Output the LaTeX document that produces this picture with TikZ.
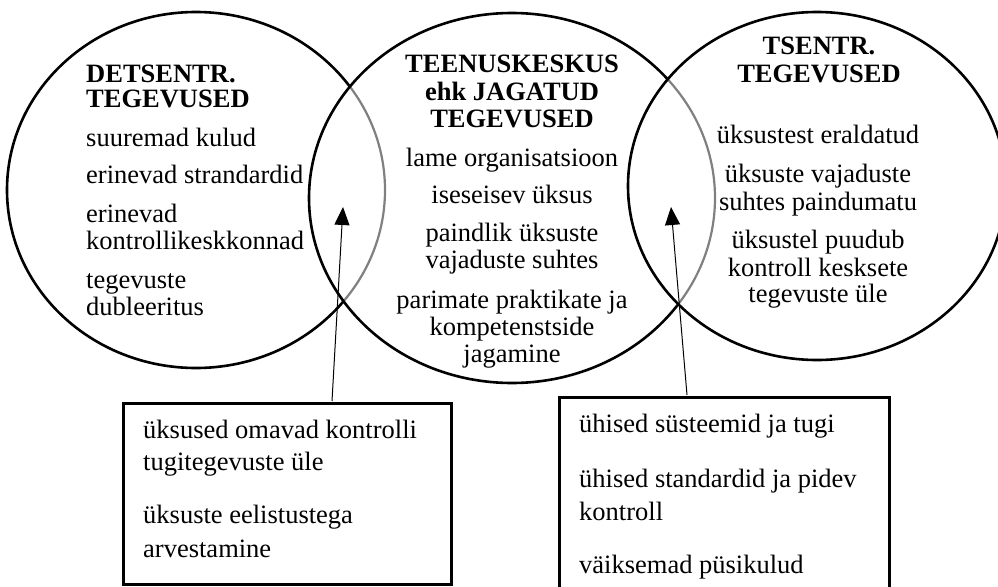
\documentclass[tikz,border=0pt]{standalone}
\usepackage{fontspec}
\setmainfont{Liberation Serif}
\usetikzlibrary{arrows.meta}
\tikzset{
  txt/.style={font=\fontsize{26.5pt}{28pt}\selectfont, inner sep=0pt},
  hd/.style={font=\fontsize{26.5pt}{28pt}\selectfont\bfseries, inner sep=0pt},
  ring/.style={line width=2.6pt, draw=black},
  inner/.style={line width=2.2pt, draw=black!50},
  wipe/.style={line width=4pt, draw=white},
  boxst/.style={draw=black, line width=2.6pt, inner sep=0pt, anchor=north west},
  arr/.style={line width=1pt, -{Triangle[length=18pt,width=15pt]}}
}
\begin{document}
\begin{tikzpicture}[x=1pt,y=-1pt]
\useasboundingbox (0,0) rectangle (998,586);
% ellipses
\coordinate (cl) at (196,190);
\coordinate (cc) at (512,198);
\coordinate (cr) at (817,186);
\draw[ring] (cl) ellipse [x radius=189pt, y radius=178pt];
\begin{scope}
  \clip (cc) ellipse [x radius=203pt, y radius=185pt];
  \draw[wipe] (cl) ellipse [x radius=189pt, y radius=178pt];
  \draw[inner] (cl) ellipse [x radius=189pt, y radius=178pt];
\end{scope}
\draw[ring] (cc) ellipse [x radius=203pt, y radius=185pt];
\begin{scope}
  \clip (cr) ellipse [x radius=189pt, y radius=174pt];
  \draw[wipe] (cc) ellipse [x radius=203pt, y radius=185pt];
  \draw[inner] (cc) ellipse [x radius=203pt, y radius=185pt];
\end{scope}
\draw[ring] (cr) ellipse [x radius=189pt, y radius=174pt];
% left ellipse text
\node[hd, anchor=base west] (l1) at (86,82) {DETSENTR.};
\node[hd, anchor=base west] (l2) at (86,107) {TEGEVUSED};
\node[txt, anchor=base west] (l3) at (86,146) {suuremad kulud};
\node[txt, anchor=base west] (l4) at (86,183) {erinevad strandardid};
\node[txt, anchor=base west] (l5) at (86,222) {erinevad};
\node[txt, anchor=base west] (l6) at (86,249) {kontrollikeskkonnad};
\node[txt, anchor=base west] (l7) at (86,288) {tegevuste};
\node[txt, anchor=base west] (l8) at (86,315) {dubleeritus};
% center text
\node[hd, anchor=base] (c1) at (512,72) {TEENUSKESKUS};
\node[hd, anchor=base] (c2) at (512,100) {ehk JAGATUD};
\node[hd, anchor=base] (c3) at (512,127) {TEGEVUSED};
\node[txt, anchor=base] (c4) at (512,166) {lame organisatsioon};
\node[txt, anchor=base] (c5) at (512,203) {iseseisev üksus};
\node[txt, anchor=base] (c6) at (512,241) {paindlik üksuste};
\node[txt, anchor=base] (c7) at (512,268) {vajaduste suhtes};
\node[txt, anchor=base] (c8) at (512,308) {parimate praktikate ja};
\node[txt, anchor=base] (c9) at (512,335) {kompetenstside};
\node[txt, anchor=base] (c10) at (512,362) {jagamine};
% right text
\node[hd, anchor=base] (r1) at (819,55) {TSENTR.};
\node[hd, anchor=base] (r2) at (819,82) {TEGEVUSED};
\node[txt, anchor=base] (r3) at (818,143) {üksustest eraldatud};
\node[txt, anchor=base] (r4) at (818,182) {üksuste vajaduste};
\node[txt, anchor=base] (r5) at (818,210) {suhtes paindumatu};
\node[txt, anchor=base] (r6) at (818,248) {üksustel puudub};
\node[txt, anchor=base] (r7) at (818,276) {kontroll kesksete};
\node[txt, anchor=base] (r8) at (818,302) {tegevuste üle};
% boxes
\node[boxst, minimum width=328pt, minimum height=181pt] (lbox) at (122,402) {};
\node[boxst, minimum width=330pt, minimum height=230pt] (rbox) at (558,396) {};
\node[txt, anchor=base west] (lb1) at (143,438) {üksused omavad kontrolli};
\node[txt, anchor=base west] (lb2) at (143,470) {tugitegevuste üle};
\node[txt, anchor=base west] (lb3) at (143,523) {üksuste eelistustega};
\node[txt, anchor=base west] (lb4) at (143,557) {arvestamine};
\node[txt, anchor=base west] (rb1) at (579,432) {ühised süsteemid ja tugi};
\node[txt, anchor=base west] (rb2) at (579,487) {ühised standardid ja pidev};
\node[txt, anchor=base west] (rb3) at (579,520) {kontroll};
\node[txt, anchor=base west] (rb4) at (579,573) {väiksemad püsikulud};
% arrows
\coordinate (lfoot) at (332,401);
\coordinate (ltip) at (343,207);
\coordinate (rfoot) at (687,395);
\coordinate (rtip) at (671,207);
\draw[arr] (lfoot) -- (ltip);
\draw[arr] (rfoot) -- (rtip);
\end{tikzpicture}
\end{document}
